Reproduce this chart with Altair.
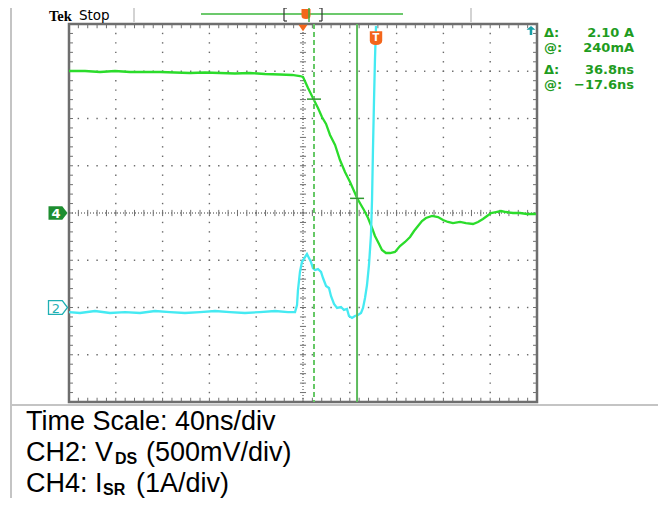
import altair as alt
import numpy as np
import pandas as pd

# ---------------- data ----------------
# CH4: current I_SR (1 A/div), time in ns relative to trigger (40 ns/div)
ch4_time_ns = [-200.0, -186.3, -173.5, -160.7, -147.9, -135.0, -122.2, -109.4, -96.6, -83.8,
               -70.9, -58.1, -45.3, -32.5, -19.7, -9.4, -2.6, 0.0, 4.3, 8.5,
               12.8, 16.2, 19.7, 23.1, 27.4, 31.6, 35.9, 40.2, 43.6, 46.2,
               49.6, 52.1, 55.6, 59.0, 61.5, 65.0, 67.5, 70.9, 74.4, 78.6,
               82.9, 87.2, 91.5, 94.9, 98.3, 101.7, 105.1, 110.3, 115.4, 119.7,
               123.9, 128.2, 134.2, 139.3, 145.3, 149.6, 153.8, 157.3, 160.7, 165.0,
               169.2, 173.5, 179.5, 185.5, 191.5, 199.1]
ch4_current_a = [3.005, 3.005, 2.984, 3.005, 2.984, 2.984, 2.984, 2.974, 2.963, 2.974,
                 2.963, 2.952, 2.963, 2.942, 2.931, 2.921, 2.899, 2.878, 2.646, 2.434,
                 2.222, 2.032, 1.884, 1.651, 1.439, 1.122, 0.868, 0.656, 0.466, 0.317,
                 0.169, 0.063, -0.106, -0.317, -0.487, -0.656, -0.783, -0.847, -0.847, -0.825,
                 -0.698, -0.614, -0.508, -0.381, -0.275, -0.169, -0.106, -0.063, -0.085, -0.148,
                 -0.190, -0.212, -0.190, -0.212, -0.233, -0.190, -0.127, -0.063, 0.0, 0.021,
                 0.042, 0.021, 0.0, 0.0, -0.021, -0.021]

# CH2: V_DS (500 mV/div), ground marker two divisions below centre
ch2_time_ns = [-200.0, -190.6, -177.8, -165.0, -152.1, -139.3, -126.5, -113.7, -100.9, -88.0,
               -75.2, -62.4, -49.6, -36.8, -23.9, -12.8, -6.8, -5.1, -4.3, -2.6,
               -0.9, 1.7, 3.4, 5.1, 6.8, 8.5, 10.3, 12.8, 15.4, 17.1,
               19.7, 22.2, 23.9, 26.5, 29.1, 32.5, 35.0, 37.6, 39.3, 41.9,
               44.4, 47.0, 49.6, 51.3, 53.0, 54.7, 56.4, 58.1, 59.0, 59.8,
               60.7, 61.5, 62.4]
ch2_voltage_v = [-0.048, -0.058, -0.037, -0.058, -0.048, -0.058, -0.037, -0.048, -0.058, -0.048,
                 -0.037, -0.048, -0.058, -0.048, -0.037, -0.048, -0.048, 0.026, 0.185, 0.376,
                 0.481, 0.534, 0.566, 0.524, 0.481, 0.418, 0.397, 0.407, 0.376, 0.312,
                 0.228, 0.206, 0.122, 0.037, -0.005, 0.005, -0.026, -0.016, -0.090, -0.111,
                 -0.090, -0.079, -0.058, -0.005, 0.101, 0.238, 0.450, 0.767, 1.138, 1.667,
                 2.196, 2.619, 2.979]

ch2_volts_per_div = 0.5
ch2_offset_div = -2.0
ch4_offset_div = 0.0

cursor_times_ns = [9.4, 46.2]
cursor_levels_a = [2.41, 0.31]
trigger_time_ns = 62.4
trigger_level_div = 3.70

readout_labels = ["Δ:", "@:", "Δ:", "@:"]
readout_values = ["2.10 A", "240mA", "36.8ns", "−17.6ns"]

header_labels = ["Tek", "Stop"]
footer_line1 = "Time Scale: 40ns/div"
footer_line2 = ["CH2: V", "DS", "(500mV/div)"]
footer_line3 = ["CH4: I", "SR", "(1A/div)"]
channel_labels = ["4", "2"]

# ---------------- graticule ----------------
major_t = np.arange(-200, 201, 40)
minor_t = np.arange(-200, 201, 8)
major_v = np.arange(-4, 5, 1)
minor_v = np.round(np.arange(-4, 4.001, 0.2), 1)

dots = [(x, y) for x in major_t if x not in (-200, 0, 200) for y in minor_v if abs(y) < 4]
dots += [(x, y) for y in major_v if y not in (-4, 0, 4) for x in minor_t if abs(x) < 200]
dots_df = pd.DataFrame(dots, columns=["x", "y"])

segs = []
for x in minor_t[1:-1]:
    segs += [(x, 4, x, 3.91), (x, -4, x, -3.91), (x, -0.066, x, 0.066)]
for y in minor_v[1:-1]:
    segs += [(-200, y, -196.6, y), (200, y, 196.6, y), (-2.6, y, 2.6, y)]
segs_df = pd.DataFrame(segs, columns=["x1", "y1", "x2", "y2"])
center_df = pd.DataFrame([(-200, 0, 200, 0), (0, -4, 0, 4)], columns=["x1", "y1", "x2", "y2"])

XS = alt.Scale(domain=[-200, 200], nice=False, zero=False)
YS = alt.Scale(domain=[-4, 4], nice=False, zero=False)


def X(f):
    return alt.X(f, type="quantitative", scale=XS, axis=None)


def Y(f):
    return alt.Y(f, type="quantitative", scale=YS, axis=None)


def seg_layer(df, **kw):
    return alt.Chart(df).mark_rule(**kw).encode(x=X("x1"), x2="x2", y=Y("y1"), y2="y2")


def txt(s, x, y, **kw):
    kw.setdefault("align", "left")
    kw.setdefault("baseline", "alphabetic")
    return alt.Chart(pd.DataFrame({"s": [s]})).mark_text(**kw).encode(
        text="s:N", x=alt.value(x), y=alt.value(y))


def prule(x1, y1, x2, y2, **kw):
    return alt.Chart(pd.DataFrame({"k": [0]})).mark_rule(**kw).encode(
        x=alt.value(x1), x2=alt.value(x2), y=alt.value(y1), y2=alt.value(y2))


def pshape(path, x, y, size, **kw):
    return alt.Chart(pd.DataFrame({"k": [0]})).mark_point(shape=path, size=size, opacity=1, **kw).encode(
        x=alt.value(x), y=alt.value(y))


GREEN = "#2bdc2b"
CYAN = "#45eaf2"
CURSOR = "#5dbb5d"
ORANGE = "#f4661b"
READ = "#1f9c1f"
FRAME = "#c4c4c4"

layers = []
# frame of the screenshot
layers += [prule(-58, -17, 597, -17, color=FRAME, strokeWidth=2),
           prule(-58, -17, -58, 482, color=FRAME, strokeWidth=2),
           prule(-58, 381, 597, 381, color=FRAME, strokeWidth=2),
           prule(65, -17, 65, -2, color=FRAME, strokeWidth=1.5),
           prule(402, -17, 402, -2, color=FRAME, strokeWidth=1.5)]

# graticule
layers.append(alt.Chart(dots_df).mark_square(size=2, color="#6a6a6a", opacity=1).encode(x=X("x"), y=Y("y")))
layers.append(seg_layer(center_df, color="#3a3a3a", strokeWidth=1, strokeDash=[1, 2]))
layers.append(seg_layer(segs_df, color="#707070", strokeWidth=1))

# traces
df4 = pd.DataFrame({"t": ch4_time_ns, "i": ch4_current_a})
layers.append(alt.Chart(df4).transform_calculate(d=f"datum.i + {ch4_offset_div}")
              .mark_line(color=GREEN, strokeWidth=2.3).encode(x=X("t"), y=Y("d")))
df2 = pd.DataFrame({"t": ch2_time_ns, "v": ch2_voltage_v})
layers.append(alt.Chart(df2).transform_calculate(d=f"datum.v / {ch2_volts_per_div} + {ch2_offset_div}")
              .mark_line(color=CYAN, strokeWidth=2.3).encode(x=X("t"), y=Y("d")))

# cursors
dfc = pd.DataFrame({"t": cursor_times_ns, "i": cursor_levels_a, "kind": ["dashed", "solid"]})
layers.append(alt.Chart(dfc).transform_filter("datum.kind == 'dashed'")
              .mark_rule(color="#66c866", strokeWidth=2, strokeDash=[5, 3])
              .encode(x=X("t"), y=alt.value(0), y2=alt.value(378)))
layers.append(alt.Chart(dfc).transform_filter("datum.kind == 'solid'")
              .mark_rule(color=CURSOR, strokeWidth=2)
              .encode(x=X("t"), y=alt.value(0), y2=alt.value(378)))
layers.append(alt.Chart(dfc).mark_tick(orient="horizontal", size=14, thickness=1.5, color="#2f9a2f", opacity=1)
              .encode(x=X("t"), y=Y("i")))

# trigger marker "T"
SHIELD = "M -0.9 -1 L 0.9 -1 L 0.9 0.35 Q 0.9 1 0 1 Q -0.9 1 -0.9 0.35 Z"
dft = pd.DataFrame({"t": [trigger_time_ns], "y": [trigger_level_div], "s": ["T"]})
layers.append(alt.Chart(dft).mark_point(shape=SHIELD, size=190, filled=True, color=ORANGE, opacity=1)
              .encode(x=X("t"), y=Y("y")))
layers.append(alt.Chart(dft).mark_text(color="white", fontWeight="bold", font="DejaVu Sans", fontSize=10, dy=0)
              .encode(x=X("t"), y=Y("y"), text="s:N"))

# trigger position at top centre, ch2 level arrow at top right
layers.append(pshape("M -1 -0.7 L 1 -0.7 L 0 0.7 Z", 234, 4, 81, filled=True, color=ORANGE))
layers.append(pshape("M 0 -1 L 1 -0.15 L 0.28 -0.15 L 0.28 1 L -0.28 1 L -0.28 -0.15 L -1 -0.15 Z",
                     462, 6.5, 81, filled=True, color="#179ea6"))

# channel markers
PENTA = "M -1 -0.72 L 0.45 -0.72 L 1 0 L 0.45 0.72 L -1 0.72 Z"
dfm = pd.DataFrame({"y": [ch4_offset_div, ch2_offset_div], "s": channel_labels})
layers.append(alt.Chart(dfm).transform_filter("datum.s == '4'")
              .mark_point(shape=PENTA, size=361, filled=True, color="#1e8e30", opacity=1)
              .encode(x=alt.value(-11), y=Y("y")))
layers.append(alt.Chart(dfm).transform_filter("datum.s == '2'")
              .mark_point(shape=PENTA, size=361, filled=True, fill="white", stroke="#1fb0b4", strokeWidth=1.3, opacity=1)
              .encode(x=alt.value(-11), y=Y("y")))
layers.append(alt.Chart(dfm).transform_filter("datum.s == '4'")
              .mark_text(color="white", font="DejaVu Sans", fontWeight="bold", fontSize=13, dx=-2, dy=1)
              .encode(x=alt.value(-11), y=Y("y"), text="s:N"))
layers.append(alt.Chart(dfm).transform_filter("datum.s == '2'")
              .mark_text(color="#1fb0b4", font="DejaVu Sans", fontSize=13, dx=-2, dy=1)
              .encode(x=alt.value(-11), y=Y("y"), text="s:N"))

# header
layers.append(txt(header_labels[0], -20, -3, font="Liberation Serif", fontWeight="bold", fontSize=14.5, color="black"))
layers.append(txt(header_labels[1], 10, -4, font="DejaVu Sans", fontSize=13.5, color="black"))
layers.append(prule(132, -10, 334, -10, color="#6cc96c", strokeWidth=2))
# record-view brackets
layers += [prule(215, -16, 215, -3, color="#333333", strokeWidth=1.2),
           prule(215, -16, 218, -16, color="#333333", strokeWidth=1.2),
           prule(215, -3, 218, -3, color="#333333", strokeWidth=1.2),
           prule(253, -16, 253, -3, color="#333333", strokeWidth=1.2),
           prule(250, -16, 253, -16, color="#333333", strokeWidth=1.2),
           prule(250, -3, 253, -3, color="#333333", strokeWidth=1.2)]
layers.append(pshape(SHIELD, 237, -10, 100, filled=True, color=ORANGE))
layers.append(prule(240, -16, 240, -2, color="#3fae3f", strokeWidth=1.5))

# cursor readouts
ys = [13, 28, 50, 65]
for lab, val, yy in zip(readout_labels, readout_values, ys):
    layers.append(txt(lab, 475, yy, font="DejaVu Sans", fontWeight="bold", fontSize=13, color=READ))
    layers.append(txt(val, 565, yy, align="right", font="DejaVu Sans", fontWeight="bold", fontSize=13, color=READ))

# footer
F = dict(font="Liberation Sans", fontSize=27, color="black")
S = dict(font="Liberation Sans", fontSize=16, fontWeight="bold", color="black")
layers.append(txt(footer_line1, -43, 406, **F))
layers.append(txt(footer_line2[0], -43, 437, **F))
layers.append(txt(footer_line2[1], 46, 440, **S))
layers.append(txt(footer_line2[2], 77, 437, **F))
layers.append(txt(footer_line3[0], -43, 468, **F))
layers.append(txt(footer_line3[1], 34, 471, **S))
layers.append(txt(footer_line3[2], 67, 468, **F))

chart = alt.layer(*layers).properties(
    width=468, height=378,
    autosize=alt.AutoSizeParams(type="none"),
    padding={"left": 61, "top": 16, "right": 121, "bottom": 96},
    background="white",
).configure_view(stroke="#6e6e6e", strokeWidth=2.5)

chart.save("out.html", embed_options={"renderer": "svg", "actions": False})
